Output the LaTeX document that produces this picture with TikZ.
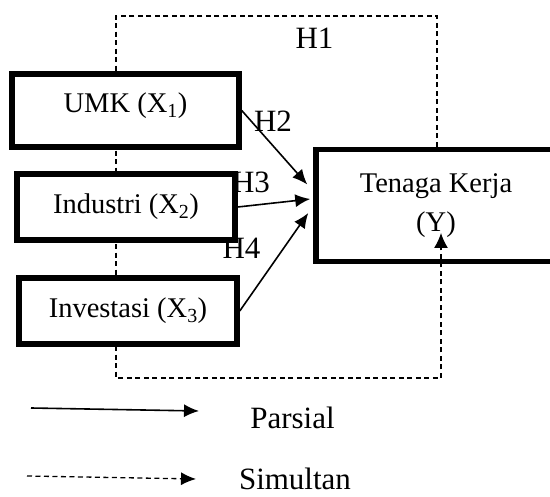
\documentclass[tikz,border=0pt]{standalone}
\usepackage{fontspec}
\setmainfont{Liberation Serif}
\usetikzlibrary{arrows.meta, calc, backgrounds}

\begin{document}
\begin{tikzpicture}[x=1pt, y=-1pt, >={Latex[length=15pt,width=13pt]}]
  % Styles
  \tikzstyle{var} = [rectangle, draw, line width=5.5pt, fill=white, inner sep=0pt, align=center, font=\fontsize{28.5}{39}\selectfont]
  \tikzstyle{hyp} = [inner sep=0pt, anchor=base, font=\fontsize{31}{37}\selectfont]
  \tikzstyle{parsial} = [draw, ->, line width=1.6pt]
  \tikzstyle{simultan} = [draw, dash pattern=on 5pt off 3.5pt, line width=1.3pt]

  \useasboundingbox (0,0) rectangle (550,497);
  \clip (0,0) rectangle (550,497);

  % Variables
  \node[var, minimum width=227pt, minimum height=73pt, text depth=15pt] (UMK) at (125.5,110.5) {UMK (X\textsubscript{1})};
  \node[var, minimum width=218pt, minimum height=66pt] (IND) at (126,207) {Industri (X\textsubscript{2})};
  \node[var, minimum width=218pt, minimum height=66pt] (INV) at (128,311) {Investasi (X\textsubscript{3})};
  \node[var, minimum width=240pt, minimum height=112pt] (TK) at (436,205.5) {Tenaga Kerja\\(Y)};

  % Simultan (H1)
  \coordinate (h1tr) at (437,16);
  \coordinate (h1tl) at (116,16);
  \coordinate (h1bl) at (116,378);
  \coordinate (h1br) at (441,378);
  \coordinate (h1end) at (441,233);
  \begin{scope}[on background layer]
    \draw[simultan] (TK.north -| h1tr) -- (h1tr) -- (h1tl) -- (h1bl) -- (h1br);
  \end{scope}
  \draw[simultan, ->, >={Latex[length=15pt,width=14pt]}] (h1br) -- (h1end);

  % Parsial (H2 - H4)
  \draw[parsial] (UMK.east) -- ($(TK.west)+(-6,-21)$);
  \draw[parsial] (IND.east) -- ($(TK.west)+(-3,-6.5)$);
  \draw[parsial] (INV.east) -- ($(TK.west)+(-5,7.5)$);

  % Labels
  \node[hyp] (H1) at (314.5,49) {H1};
  \node[hyp] (H2) at (273,132) {H2};
  \node[hyp] (H3) at (251,193) {H3};
  \node[hyp] (H4) at (241.5,259) {H4};

  % Legend
  \coordinate (legPa) at (31,408);
  \coordinate (legPb) at (199,411);
  \coordinate (legSa) at (27,476);
  \coordinate (legSb) at (196,479);
  \draw[parsial] (legPa) -- (legPb);
  \draw[simultan, ->] (legSa) -- (legSb);
  \node[hyp] (legP) at (292.5,429) {Parsial};
  \node[hyp] (legS) at (295,490) {Simultan};

\end{tikzpicture}
\end{document}
